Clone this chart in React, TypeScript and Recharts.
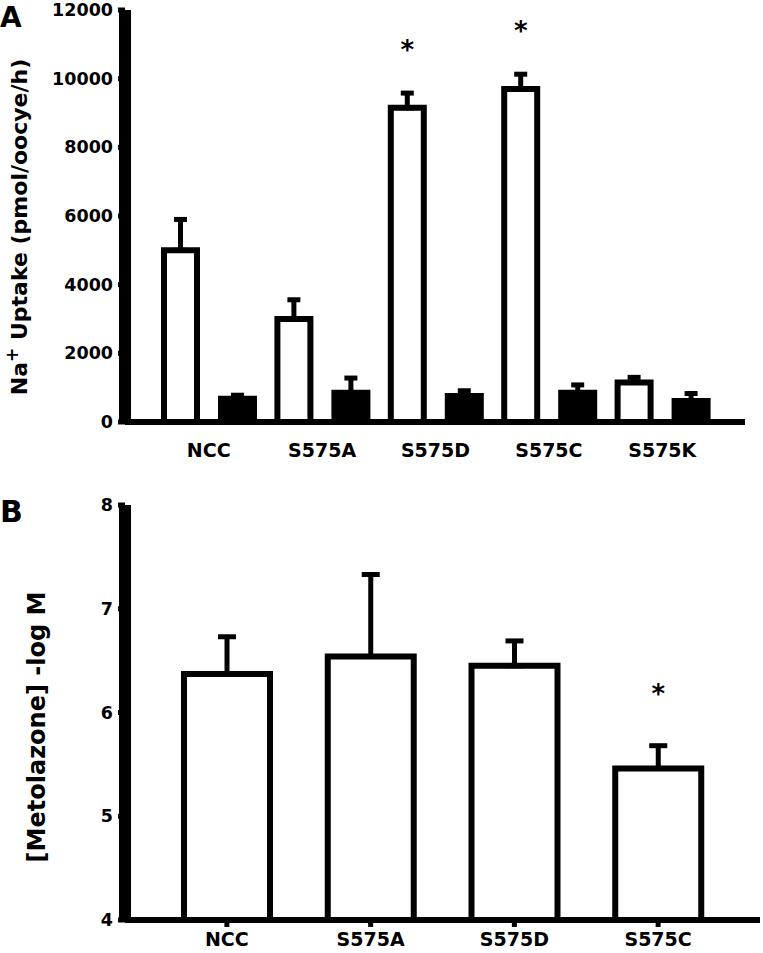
import React from 'react'
import { BarChart, Bar, XAxis, YAxis, ErrorBar, LabelList } from 'recharts'

// Panel A: Na+ uptake, white = control, black = with inhibitor
const catsA = ['NCC', 'S575A', 'S575D', 'S575C', 'S575K']
const whiteA = [5000, 3000, 9150, 9700, 1150]
const whiteErrA = [900, 560, 430, 430, 150]
const blackA = [680, 850, 760, 850, 610]
const blackErrA = [100, 430, 150, 230, 220]
const starA = [false, false, true, true, false]
const ticksA = [0, 2000, 4000, 6000, 8000, 10000, 12000]

// Panel B: metolazone IC50
const catsB = ['NCC', 'S575A', 'S575D', 'S575C']
const valB = [6.37, 6.54, 6.45, 5.46]
const errB = [0.36, 0.79, 0.24, 0.22]
const starB = [false, false, false, true]
const ticksB = [4, 5, 6, 7, 8]

const FONT = '"DejaVu Sans", sans-serif'

const dataA = catsA.map((name, i) => ({
  name,
  white: whiteA[i],
  whiteErr: [0, whiteErrA[i]],
  black: blackA[i],
  blackErr: [0, blackErrA[i]],
}))

const dataB = catsB.map((name, i) => ({
  name,
  val: valB[i],
  err: [0, errB[i]],
}))

function YTick({ x, y, payload }: any) {
  return (
    <text x={x} y={y} dy={6} textAnchor="end" fontFamily={FONT} fontWeight="bold" fontSize={17.5} fill="#000">
      {payload.value}
    </text>
  )
}

const xTick = (dy: number) => ({ x, y, payload }: any) => (
  <text x={x} y={y} dy={dy} textAnchor="middle" fontFamily={FONT} fontWeight="bold" fontSize={19} fill="#000">
    {payload.value}
  </text>
)

// asterisk above the error bar cap
const starLabel = (cats: string[], vals: number[], errs: number[], stars: boolean[], base: number, lift: number) =>
  (props: any) => {
    const { x, y, width, height, value } = props
    const i = cats.indexOf(value)
    if (i < 0 || !stars[i]) return null
    const pxPer = height / (vals[i] - base)
    const capY = y - errs[i] * pxPer
    return (
      <text x={x + width / 2} y={capY - lift} textAnchor="middle" fontFamily={FONT} fontWeight="bold" fontSize={26} fill="#000">
        *
      </text>
    )
  }

const axisStyle = { stroke: '#000', strokeWidth: 6 }
// half of the y axis line is hidden under the plot, so draw it twice as wide
const yAxisStyle = { stroke: '#000', strokeWidth: 12 }
const tickStyle = { stroke: '#000', strokeWidth: 5 }

function PanelA() {
  return (
    <BarChart width={763} height={470} data={dataA} margin={{ top: 10, right: 18, bottom: 8, left: 0 }} barSize={33} barGap={24}>
      <YAxis
        width={125}
        domain={[0, 12000]}
        ticks={ticksA}
        interval={0}
        tickSize={7}
        tickMargin={5}
        axisLine={yAxisStyle}
        tickLine={tickStyle}
        tick={<YTick />}
      />
      <XAxis
        dataKey="name"
        height={40}
        padding={{ left: 27, right: 26 }}
        axisLine={axisStyle}
        tickLine={false}
        tickSize={0}
        tickMargin={0}
        tick={xTick(35)}
      />
      <Bar dataKey="white" fill="#fff" stroke="#000" strokeWidth={6} isAnimationActive={false}>
        <ErrorBar dataKey="whiteErr" width={6.5} stroke="#000" strokeWidth={5} direction="y" />
        <LabelList dataKey="name" content={starLabel(catsA, whiteA, whiteErrA, starA, 0, 34)} />
      </Bar>
      <Bar dataKey="black" fill="#000" stroke="#000" strokeWidth={6} isAnimationActive={false}>
        <ErrorBar dataKey="blackErr" width={6.5} stroke="#000" strokeWidth={5} direction="y" />
      </Bar>
    </BarChart>
  )
}

function PanelB() {
  return (
    <BarChart width={763} height={483} data={dataB} margin={{ top: 35, right: 3, bottom: 3, left: 0 }} barSize={86}>
      <YAxis
        width={125}
        domain={[4, 8]}
        ticks={ticksB}
        interval={0}
        tickSize={7}
        tickMargin={5}
        axisLine={yAxisStyle}
        tickLine={tickStyle}
        tick={<YTick />}
      />
      <XAxis
        dataKey="name"
        height={30}
        padding={{ left: 30, right: 30 }}
        axisLine={axisStyle}
        tickLine={tickStyle}
        tickSize={7}
        tickMargin={0}
        tick={xTick(19)}
      />
      <Bar dataKey="val" fill="#fff" stroke="#000" strokeWidth={6} isAnimationActive={false}>
        <ErrorBar dataKey="err" width={9} stroke="#000" strokeWidth={5} direction="y" />
        <LabelList dataKey="name" content={starLabel(catsB, valB, errB, starB, 4, 43)} />
      </Bar>
    </BarChart>
  )
}

export default function App() {
  return (
    <div style={{ position: 'absolute', left: 0, top: 0, width: 763, height: 953, background: '#fff' }}>
      <div style={{ position: 'absolute', left: 0, top: 0 }}>
        <PanelA />
      </div>
      <div style={{ position: 'absolute', left: 0, top: 470 }}>
        <PanelB />
      </div>
      <svg width={763} height={953} style={{ position: 'absolute', left: 0, top: 0, pointerEvents: 'none' }}>
        <text x={0} y={27} fontFamily={FONT} fontWeight="bold" fontSize={28} fill="#000">A</text>
        <text x={0} y={522} fontFamily={FONT} fontWeight="bold" fontSize={30} fill="#000">B</text>
        <text transform="translate(27,227) rotate(-90)" textAnchor="middle" fontFamily={FONT} fontWeight="bold" fontSize={22} fill="#000">
          Na<tspan dy={-9} fontSize={17}>+</tspan><tspan dy={9}> Uptake (pmol/oocye/h)</tspan>
        </text>
        <text transform="translate(45,727) rotate(-90)" textAnchor="middle" fontFamily={FONT} fontWeight="bold" fontSize={24} fill="#000">
          [Metolazone] -log M
        </text>
      </svg>
    </div>
  )
}
